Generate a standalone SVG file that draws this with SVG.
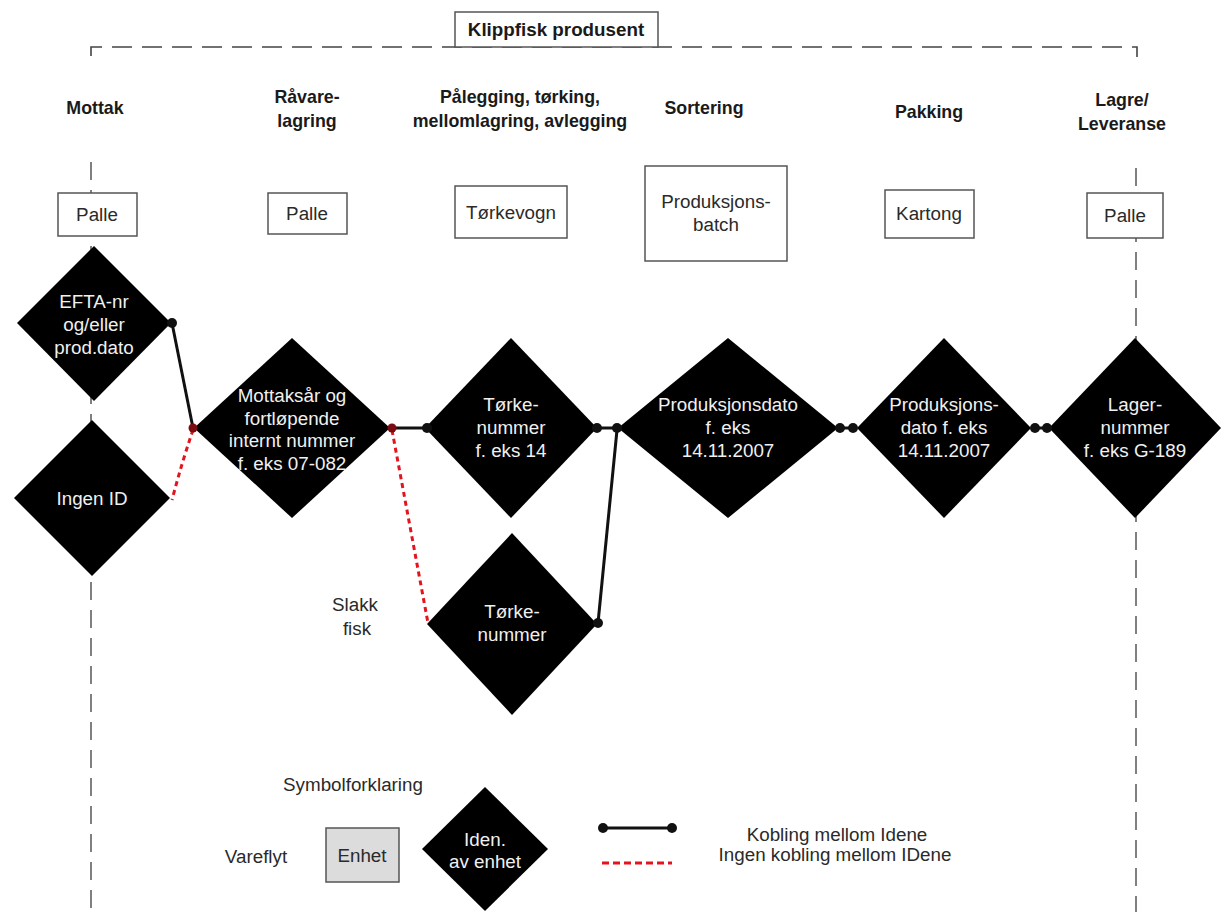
<svg xmlns="http://www.w3.org/2000/svg" width="1222" height="912" viewBox="0 0 1222 912">
<style>
text{font-family:"Liberation Sans",Arial,sans-serif;}
.h{font-size:17.8px;font-weight:bold;fill:#1a1a1a;text-anchor:middle;}
.t{font-size:18.8px;fill:#2a2a2a;text-anchor:middle;}
.w{font-size:18.8px;fill:#f0f0f0;text-anchor:middle;}
.box{fill:#fff;stroke:#555;stroke-width:1.5;}
.dia{fill:#000;}
.vd{fill:none;stroke:#808080;stroke-width:2;stroke-dasharray:18 10;}
.link{fill:none;stroke:#111;stroke-width:3;}
.nolink{fill:none;stroke:#e4141e;stroke-width:3;stroke-dasharray:5 4;}
.dot{fill:#111;}
.rdot{fill:#7a0b10;}
</style>

<g id="frame">
  <path d="M91,56 V47 H1137 V57" fill="none" stroke="#444" stroke-width="1.6" stroke-dasharray="20 10"/>
  <line x1="91" y1="162" x2="91" y2="912" class="vd"/>
  <line x1="1136" y1="168" x2="1136" y2="912" class="vd"/>
</g>

<g id="title">
  <rect x="455" y="12" width="203" height="35" class="box"/>
  <text x="556" y="36" class="h" style="font-size:18.8px">Klippfisk produsent</text>
</g>

<g id="headings">
  <text x="95" y="114" class="h">Mottak</text>
  <text x="307" y="103" class="h">Råvare-</text>
  <text x="307" y="127" class="h">lagring</text>
  <text x="520" y="103" class="h">Pålegging, tørking,</text>
  <text x="520" y="127" class="h">mellomlagring, avlegging</text>
  <text x="704" y="114" class="h">Sortering</text>
  <text x="929" y="118" class="h">Pakking</text>
  <text x="1122" y="106" class="h">Lagre/</text>
  <text x="1122" y="130" class="h">Leveranse</text>
</g>

<g id="box-palle1"><rect x="58" y="193" width="79" height="43" class="box"/><text x="97" y="221" class="t">Palle</text></g>
<g id="box-palle2"><rect x="268" y="193" width="79" height="41" class="box"/><text x="307" y="220" class="t">Palle</text></g>
<g id="box-torkevogn"><rect x="455" y="186" width="112" height="52" class="box"/><text x="511" y="219" class="t">Tørkevogn</text></g>
<g id="box-batch"><rect x="645" y="166" width="142" height="95" class="box"/><text x="716" y="208" class="t">Produksjons-</text><text x="716" y="231" class="t">batch</text></g>
<g id="box-kartong"><rect x="885" y="190" width="89" height="48" class="box"/><text x="929" y="220" class="t">Kartong</text></g>
<g id="box-palle3"><rect x="1087" y="193" width="76" height="45" class="box"/><text x="1125" y="222" class="t">Palle</text></g>

<g id="d-efta"><polygon points="94,246 171,323 94,401 17,323" class="dia"/><text x="94" y="308" class="w">EFTA-nr</text><text x="94" y="331" class="w">og/eller</text><text x="94" y="354" class="w">prod.dato</text></g>
<g id="d-ingen"><polygon points="92,420 170,498 92,576 14,498" class="dia"/><text x="92" y="505" class="w">Ingen ID</text></g>
<g id="d-mottak"><polygon points="292,338 390,428 292,518 194,428" class="dia"/><text x="292" y="402" class="w">Mottaksår og</text><text x="292" y="425" class="w">fortløpende</text><text x="292" y="447" class="w">internt nummer</text><text x="292" y="470" class="w">f. eks 07-082</text></g>
<g id="d-torke1"><polygon points="511,338 597,428 511,518 425,428" class="dia"/><text x="511" y="411" class="w">Tørke-</text><text x="511" y="434" class="w">nummer</text><text x="511" y="457" class="w">f. eks 14</text></g>
<g id="d-torke2"><polygon points="512,533 597,624 512,715 427,624" class="dia"/><text x="512" y="618" class="w">Tørke-</text><text x="512" y="641" class="w">nummer</text></g>
<g id="d-proddato"><polygon points="728,338 838,428 728,518 618,428" class="dia"/><text x="728" y="411" class="w">Produksjonsdato</text><text x="728" y="434" class="w">f. eks</text><text x="728" y="457" class="w">14.11.2007</text></g>
<g id="d-pakking"><polygon points="944,338 1031,428 944,518 857,428" class="dia"/><text x="944" y="411" class="w">Produksjons-</text><text x="944" y="434" class="w">dato f. eks</text><text x="944" y="457" class="w">14.11.2007</text></g>
<g id="d-lager"><polygon points="1135,338 1221,428 1135,518 1049,428" class="dia"/><text x="1135" y="411" class="w">Lager-</text><text x="1135" y="434" class="w">nummer</text><text x="1135" y="457" class="w">f. eks G-189</text></g>

<g id="slakk"><text x="355" y="611" class="t">Slakk</text><text x="357" y="635" class="t">fisk</text></g>

<g id="connectors">
  <line x1="172" y1="323" x2="193" y2="428" class="link"/>
  <path d="M193,430 Q182,462 172,500" class="nolink"/>
  <line x1="392" y1="428" x2="427" y2="428" class="link"/>
  <path d="M392,430 L428,623" class="nolink"/>
  <line x1="597" y1="428" x2="617" y2="428" class="link"/>
  <line x1="598" y1="623" x2="617" y2="430" class="link"/>
  <line x1="840" y1="428" x2="853" y2="428" class="link"/>
  <line x1="1035" y1="428" x2="1047" y2="428" class="link"/>
  <circle cx="172" cy="323" r="5" class="dot"/>
  <circle cx="193" cy="428" r="4.5" class="rdot"/>
  <circle cx="392" cy="428" r="4.5" class="rdot"/>
  <circle cx="427" cy="428" r="5" class="dot"/>
  <circle cx="597" cy="428" r="5" class="dot"/>
  <circle cx="617" cy="428" r="5" class="dot"/>
  <circle cx="598" cy="623" r="5" class="dot"/>
  <circle cx="840" cy="428" r="5" class="dot"/>
  <circle cx="853" cy="428" r="5" class="dot"/>
  <circle cx="1035" cy="428" r="5" class="dot"/>
  <circle cx="1047" cy="428" r="5" class="dot"/>
</g>

<g id="legend">
  <text x="353" y="791" class="t">Symbolforklaring</text>
  <text x="256" y="863" class="t">Vareflyt</text>
  <rect x="326" y="828" width="73" height="54" fill="#dcdcdc" stroke="#555" stroke-width="1.5"/>
  <text x="362" y="862" class="t">Enhet</text>
  <polygon points="485,787 548,849 485,911 422,849" class="dia"/>
  <text x="485" y="846" class="w">Iden.</text>
  <text x="485" y="868" class="w">av enhet</text>
  <line x1="603" y1="828" x2="672" y2="828" class="link"/>
  <circle cx="603" cy="828" r="5" class="dot"/>
  <circle cx="672" cy="828" r="5" class="dot"/>
  <line x1="602" y1="863" x2="672" y2="863" fill="none" stroke="#e4141e" stroke-width="3" stroke-dasharray="7 4"/>
  <text x="837" y="841" class="t">Kobling mellom Idene</text>
  <text x="835" y="861" class="t">Ingen kobling mellom IDene</text>
</g>
</svg>
